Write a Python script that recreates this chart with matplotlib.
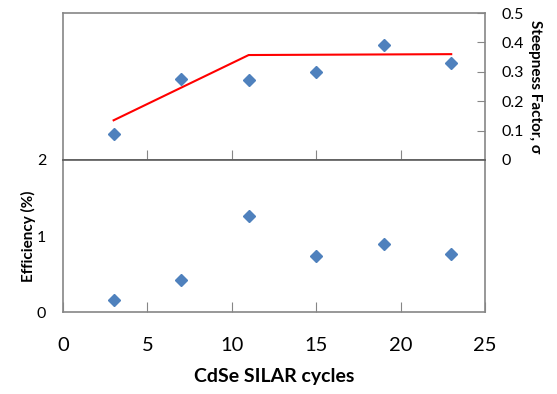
import matplotlib
matplotlib.use('Agg')
import matplotlib.pyplot as plt

plt.rcParams['font.family'] = ['Lato', 'DejaVu Sans']

cycles = [3, 7, 11, 15, 19, 23]
steepness = [0.088, 0.274, 0.271, 0.299, 0.390, 0.330]
efficiency = [0.154, 0.42, 1.26, 0.74, 0.90, 0.76]
fit_x = [3, 11, 23]
fit_y = [0.135, 0.357, 0.360]

blue = '#4F81BD'
grey = '#868686'

fig = plt.figure(figsize=(5.57, 3.94), dpi=100)
ax_top = fig.add_axes([0.1131, 0.594, 0.7576, 0.373])
ax_bot = fig.add_axes([0.1131, 0.208, 0.7576, 0.386])

# top panel: steepness factor on right axis
ax_top.plot(fit_x, fit_y, color='red', lw=1.5, zorder=2)
ax_top.plot(cycles, steepness, 'D', color=blue, ms=6.5, zorder=3)
ax_top.set_xlim(0, 25)
ax_top.set_ylim(0, 0.5)
ax_top.set_yticks([0, 0.1, 0.2, 0.3, 0.4, 0.5])
ax_top.set_yticklabels(['0', '0.1', '0.2', '0.3', '0.4', '0.5'])
ax_top.yaxis.tick_right()
ax_top.yaxis.set_label_position('right')
ax_top.set_ylabel('Steepness Factor, σ', rotation=-90, labelpad=13,
                  fontsize=11, fontweight='bold')
ax_top.set_xticks([5, 10, 15, 20])
ax_top.tick_params(axis='x', direction='in', length=7, color=grey, labelbottom=False)
ax_top.tick_params(axis='y', direction='in', length=6, color=grey, labelsize=11.5, pad=12)

# bottom panel: efficiency
ax_bot.plot(cycles, efficiency, 'D', color=blue, ms=6.5, zorder=3)
ax_bot.set_xlim(0, 25)
ax_bot.set_ylim(0, 2)
ax_bot.set_yticks([0, 1, 2])
ax_bot.set_xticks([0, 5, 10, 15, 20, 25])
ax_bot.tick_params(axis='x', direction='in', length=7, color=grey, labelsize=14.5, pad=18)
ax_bot.tick_params(axis='y', length=0, labelsize=11.5, pad=12)
ax_bot.set_ylabel('Efficiency (%)', fontsize=11, fontweight='bold', labelpad=1)
ax_bot.set_xlabel('CdSe SILAR cycles', fontsize=14, fontweight='bold', labelpad=10)

for ax in (ax_top, ax_bot):
    for s in ax.spines.values():
        s.set_color(grey)
        s.set_linewidth(1.2)
ax_bot.spines['top'].set_color('#5a5a5a')

fig.savefig('out.png', dpi=100)
